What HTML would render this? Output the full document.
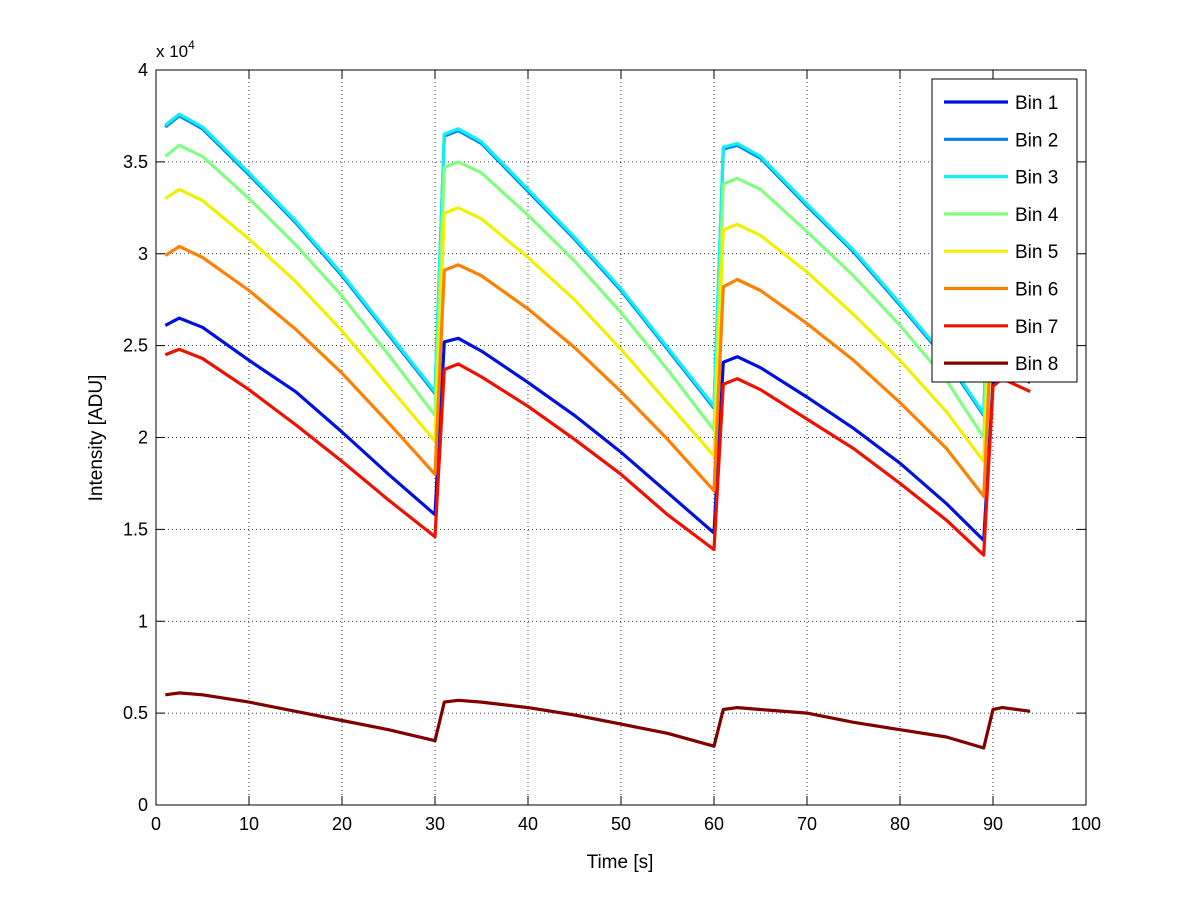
<!DOCTYPE html>
<html><head><meta charset="utf-8"><style>
body{margin:0;background:#fff;}
svg text{font-family:"Liberation Sans",sans-serif;fill:#000;}
</style></head><body>
<svg id="chart" width="1200" height="901" xmlns="http://www.w3.org/2000/svg">
<rect x="0" y="0" width="1200" height="901" fill="#fff"/>
<g id="grid"></g>
<g id="series"></g>
<g id="axes"></g>
<g id="legend"></g>
</svg>
<script>
const times = [1,2.5,5,10,15,20,25,30, 31,32.5,35,40,45,50,55,60, 61,62.5,65,70,75,80,85,89, 90,91,94];
const bin1 = [2.61,2.65,2.60,2.42,2.25,2.03,1.80,1.58, 2.52,2.54,2.47,2.30,2.12,1.92,1.70,1.48, 2.41,2.44,2.38,2.22,2.05,1.86,1.64,1.44, 2.30,2.38,2.30];
const bin2 = [3.69,3.75,3.68,3.43,3.17,2.88,2.56,2.24, 3.64,3.67,3.60,3.34,3.08,2.80,2.48,2.16, 3.57,3.59,3.52,3.26,3.01,2.72,2.42,2.12, 3.45,3.50,3.45];
const bin3 = [3.70,3.76,3.69,3.44,3.18,2.89,2.57,2.25, 3.65,3.68,3.61,3.35,3.09,2.81,2.49,2.17, 3.58,3.60,3.53,3.27,3.02,2.73,2.43,2.13, 3.46,3.51,3.46];
const bin4 = [3.53,3.59,3.53,3.30,3.05,2.77,2.45,2.12, 3.47,3.50,3.44,3.21,2.96,2.68,2.37,2.04, 3.38,3.41,3.35,3.12,2.88,2.61,2.31,2.00, 3.30,3.35,3.30];
const bin5 = [3.30,3.35,3.29,3.08,2.85,2.58,2.28,1.98, 3.22,3.25,3.19,2.98,2.75,2.48,2.19,1.90, 3.13,3.16,3.10,2.90,2.67,2.42,2.14,1.87, 3.05,3.10,3.05];
const bin6 = [2.99,3.04,2.98,2.80,2.59,2.35,2.08,1.80, 2.91,2.94,2.88,2.70,2.49,2.25,1.99,1.71, 2.82,2.86,2.80,2.62,2.42,2.19,1.94,1.68, 2.75,2.80,2.75];
const bin7 = [2.45,2.48,2.43,2.26,2.07,1.87,1.66,1.46, 2.37,2.40,2.33,2.17,1.99,1.80,1.58,1.39, 2.29,2.32,2.26,2.10,1.94,1.75,1.55,1.36, 2.28,2.32,2.25];
const bin8 = [0.60,0.61,0.60,0.56,0.51,0.46,0.41,0.35, 0.56,0.57,0.56,0.53,0.49,0.44,0.39,0.32, 0.52,0.53,0.52,0.50,0.45,0.41,0.37,0.31, 0.52,0.53,0.51];
const seriesNames = ["Bin 1","Bin 2","Bin 3","Bin 4","Bin 5","Bin 6","Bin 7","Bin 8"];
const xTicks = [0,10,20,30,40,50,60,70,80,90,100];
const yTicks = [0,0.5,1,1.5,2,2.5,3,3.5,4];
const yTickLabels = ["0","0.5","1","1.5","2","2.5","3","3.5","4"];

const allSeries = [bin1,bin2,bin3,bin4,bin5,bin6,bin7,bin8];
const colors = ["#0010df","#0080ff","#10f0f0","#80ff80","#f0f000","#ff8000","#ef1000","#800000"];
const L=156,R=1086,T=70,B=805;
const xs = v => L + (v-0)/(100-0)*(R-L);
const ys = v => B - (v-0)/(4-0)*(B-T);
const NS="http://www.w3.org/2000/svg";
function mk(tag, attrs, parent){const e=document.createElementNS(NS,tag);for(const k in attrs)e.setAttribute(k,attrs[k]);parent.appendChild(e);return e;}
const grid=document.getElementById('grid'), axes=document.getElementById('axes'), ser=document.getElementById('series'), leg=document.getElementById('legend');

xTicks.forEach((t,i)=>{
  const x=xs(t);
  if(t>0&&t<100){const g=mk('line',{x1:x,x2:x,y1:T,y2:B,stroke:'#000','stroke-width':0.8,'stroke-dasharray':'1,3'},grid);
  
  }
  mk('line',{x1:x,x2:x,y1:B,y2:B-9,stroke:'#000'},axes);
  mk('line',{x1:x,x2:x,y1:T,y2:T+9,stroke:'#000'},axes);
  const tx=mk('text',{x:x,y:B+25,'text-anchor':'middle','font-size':18},axes);
  tx.textContent=t;
  
  
});
yTicks.forEach((t,i)=>{
  const y=ys(t);
  if(t>0&&t<4){const g=mk('line',{x1:L,x2:R,y1:y,y2:y,stroke:'#000','stroke-width':0.8,'stroke-dasharray':'1,3'},grid);
  
  }
  mk('line',{x1:L,x2:L+9,y1:y,y2:y,stroke:'#000'},axes);
  mk('line',{x1:R,x2:R-9,y1:y,y2:y,stroke:'#000'},axes);
  const tx=mk('text',{x:L-8,y:y+6,'text-anchor':'end','font-size':18},axes);
  tx.textContent=yTickLabels[i];
  
  
});
const box=mk('rect',{x:L,y:T,width:R-L,height:B-T,fill:'none',stroke:'#000'},axes);



const ex=mk('text',{x:156,y:57,'font-size':17},axes);
ex.innerHTML='x 10<tspan dy="-8" font-size="12">4</tspan>';


const xl=mk('text',{x:620,y:868,'text-anchor':'middle','font-size':19},axes);
xl.textContent='Time [s]';


const yl=mk('text',{x:0,y:0,'text-anchor':'middle','font-size':19,transform:'translate(102,438) rotate(-90)'},axes);
yl.textContent='Intensity [ADU]';



allSeries.forEach((vals,si)=>{
  const pts=vals.map((v,i)=>xs(times[i]).toFixed(1)+','+ys(v).toFixed(1)).join(' ');
  const p=mk('polyline',{points:pts,fill:'none',stroke:colors[si],'stroke-width':3.2,'stroke-linejoin':'round'},ser);
  
  
});

const lb=mk('rect',{x:932,y:79,width:145,height:303,fill:'#fff',stroke:'#000'},leg);


seriesNames.forEach((n,i)=>{
  const y=102+i*37.3;
  const ln=mk('line',{x1:944,x2:1008,y1:y,y2:y,stroke:colors[i],'stroke-width':3.2},leg);
  
  
  const t=mk('text',{x:1015,y:y+7,'font-size':19},leg);
  t.textContent=n;
  
  
});
</script>
</body></html>
